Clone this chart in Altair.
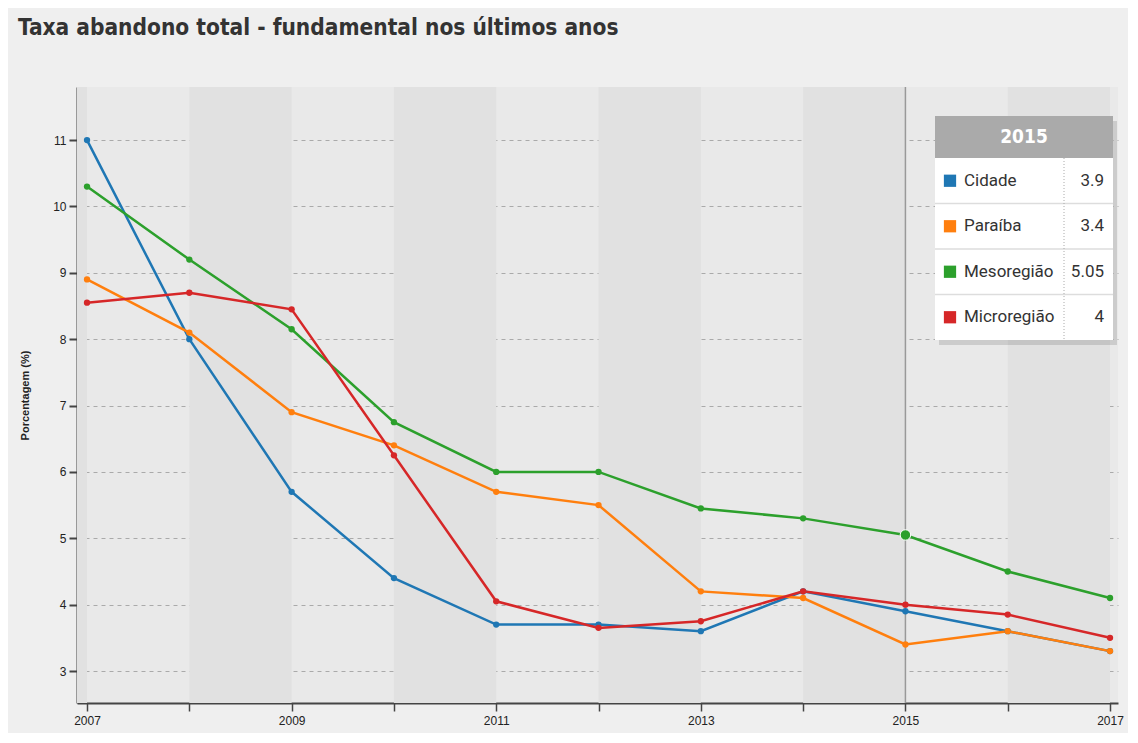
import altair as alt
import pandas as pd

# ---- data ----
years = [2007, 2008, 2009, 2010, 2011, 2012, 2013, 2014, 2015, 2016, 2017]
series_names = ["Cidade", "Paraíba", "Mesoregião", "Microregião"]
series_colors = ["#1f77b4", "#ff7f0e", "#2ca02c", "#d62728"]
cidade = [11.0, 8.0, 5.7, 4.4, 3.7, 3.7, 3.6, 4.2, 3.9, 3.6, 3.3]
paraiba = [8.9, 8.1, 6.9, 6.4, 5.7, 5.5, 4.2, 4.1, 3.4, 3.6, 3.3]
mesoregiao = [10.3, 9.2, 8.15, 6.75, 6.0, 6.0, 5.45, 5.3, 5.05, 4.5, 4.1]
microregiao = [8.55, 8.7, 8.45, 6.25, 4.05, 3.65, 3.75, 4.2, 4.0, 3.85, 3.5]
highlight_year = 2015
y_ticks = [3, 4, 5, 6, 7, 8, 9, 10, 11]
title_text = "Taxa abandono total - fundamental nos últimos anos"
y_title = "Porcentagem (%)"

series_values = [cidade, paraiba, mesoregiao, microregiao]

rows = []
for name, vals in zip(series_names, series_values):
    for yr, v in zip(years, vals):
        rows.append({"ano": yr, "serie": name, "valor": v})
df = pd.DataFrame(rows)

# ---- layout ----
W, H = 1041, 616
X_DOM = [2006.902, 2017.078]
Y_DOM = [2.518, 11.80]

xs = alt.Scale(domain=X_DOM, nice=False, zero=False)
ys = alt.Scale(domain=Y_DOM, nice=False, zero=False)
color_scale = alt.Scale(domain=series_names, range=series_colors)

x_axis = alt.Axis(
    values=years,
    format="d",
    labelExpr="datum.value % 2 == 1 ? datum.label : ''",
    grid=False,
    labelFlush=False,
)
y_axis = alt.Axis(values=y_ticks, format="d", grid=True, title=y_title)

def X(field):
    return alt.X(field, type="quantitative", scale=xs, axis=x_axis, title=None)

def Y(field):
    return alt.Y(field, type="quantitative", scale=ys, axis=y_axis, title=y_title)

# alternating background bands
band_starts = [X_DOM[0]] + [y for y in years[1:-1] if (y - years[0]) % 2 == 1]
band_ends = [years[0]] + [y + 1 for y in years[1:-1] if (y - years[0]) % 2 == 1]
bands_df = pd.DataFrame({"x0": band_starts, "x1": band_ends})
bands = alt.Chart(bands_df).mark_rect(color="#e1e1e1").encode(
    x=X("x0"),
    x2="x1:Q",
)

base = alt.Chart(df)
col = alt.Color("serie:N", scale=color_scale, legend=None, sort=series_names)

lines = base.mark_line(strokeWidth=2.5).encode(
    x=X("ano"), y=Y("valor"), color=col, detail="serie:N"
)
points = base.mark_circle(size=40, opacity=1).encode(
    x=X("ano"), y=Y("valor"), color=col
)

vrule = alt.Chart(pd.DataFrame({"ano": [highlight_year]})).mark_rule(
    color="#999999", strokeWidth=1.5
).encode(x=X("ano"))

hl = base.transform_filter(
    (alt.datum.ano == highlight_year) & (alt.datum.serie == "Mesoregião")
).mark_circle(size=110, opacity=1, stroke="white", strokeWidth=1).encode(
    x=X("ano"), y=Y("valor"), color=col
)

# ---- title (pixel overlay relative to plot origin) ----
pix = dict(scale=None)
title_mark = alt.Chart(pd.DataFrame({"t": [title_text], "x": [-59], "y": [-52]})).mark_text(
    font="DejaVu Sans Condensed, Roboto Condensed, Roboto, sans-serif",
    fontSize=22.5,
    fontWeight="bold",
    color="#333333",
    align="left",
    baseline="alphabetic",
).encode(x=alt.X("x:Q", **pix), y=alt.Y("y:Q", **pix), text="t:N")

# ---- tooltip box (pixel overlay) ----
BX0, BX1 = 858, 1036
BY0, HEAD = 29, 42
ROW = 45.5
n = len(series_names)
BY_HEAD = BY0 + HEAD
BY1 = BY_HEAD + ROW * n
SEP_X = 987

idx = years.index(highlight_year)
tip_df = pd.DataFrame(
    {
        "serie": series_names,
        "valtxt": [f"{v[idx]:g}" for v in series_values],
        "i": list(range(n)),
    }
)
tip_df["yc"] = BY_HEAD + ROW * tip_df["i"] + ROW / 2
tip_df["sq_x"] = BX0 + 15
tip_df["lab_x"] = BX0 + 29
tip_df["val_x"] = BX1 - 9

box_df = pd.DataFrame(
    {
        "x0": [BX0 + 4, BX0, BX0],
        "x1": [BX1 + 4, BX1, BX1],
        "y0": [BY0 + 5, BY_HEAD, BY0],
        "y1": [BY1 + 5, BY1, BY_HEAD],
        "fill": ["#000000", "#ffffff", "#aaaaaa"],
        "op": [0.12, 1.0, 1.0],
    }
)
boxes = alt.Chart(box_df).mark_rect().encode(
    x=alt.X("x0:Q", **pix),
    x2="x1:Q",
    y=alt.Y("y0:Q", **pix),
    y2="y1:Q",
    fill=alt.Fill("fill:N", scale=None),
    opacity=alt.Opacity("op:Q", scale=None),
)
sep_df = pd.DataFrame(
    {"y": [BY_HEAD + ROW * k for k in range(1, n)], "x0": [BX0] * (n - 1), "x1": [BX1] * (n - 1)}
)
hseps = alt.Chart(sep_df).mark_rule(color="#dddddd", strokeWidth=1.5).encode(
    x=alt.X("x0:Q", **pix), x2="x1:Q", y=alt.Y("y:Q", **pix)
)
vsep = alt.Chart(pd.DataFrame({"x": [SEP_X], "y0": [BY_HEAD], "y1": [BY1]})).mark_rule(
    color="#aaaaaa", strokeWidth=1, strokeDash=[1, 2]
).encode(x=alt.X("x:Q", **pix), y=alt.Y("y0:Q", **pix), y2="y1:Q")

head_txt = alt.Chart(
    pd.DataFrame({"t": [str(highlight_year)], "x": [(BX0 + BX1) / 2], "y": [BY0 + HEAD / 2]})
).mark_text(
    font="DejaVu Sans Condensed, Roboto, sans-serif", fontSize=19, fontWeight="bold",
    color="white", align="center", baseline="middle"
).encode(x=alt.X("x:Q", **pix), y=alt.Y("y:Q", **pix), text="t:N")

tip = alt.Chart(tip_df)
squares = tip.mark_square(size=150, opacity=1).encode(
    x=alt.X("sq_x:Q", **pix), y=alt.Y("yc:Q", **pix),
    color=alt.Color("serie:N", scale=color_scale, legend=None),
)
labels = tip.mark_text(
    font="Roboto", fontSize=17, color="#333333", align="left", baseline="middle"
).encode(x=alt.X("lab_x:Q", **pix), y=alt.Y("yc:Q", **pix), text="serie:N")
vals = tip.mark_text(
    font="Roboto", fontSize=17, color="#333333", align="right", baseline="middle"
).encode(x=alt.X("val_x:Q", **pix), y=alt.Y("yc:Q", **pix), text="valtxt:N")

chart = (
    alt.layer(
        bands, vrule, lines, points, hl, boxes, hseps, vsep, head_txt, squares, labels, vals,
        title_mark,
    )
    .properties(
        width=W,
        height=H,
        autosize=alt.AutoSizeParams(type="none"),
        padding={"left": 69, "top": 79, "right": 10, "bottom": 30},
        background="#efefef",
    )
    .configure_view(fill="#e9e9e9", stroke=None)
    .configure_axis(
        domainColor="#444444",
        domainWidth=2,
        tickColor="#444444",
        tickSize=8,
        labelFont="Liberation Sans",
        labelFontSize=12,
        labelColor="#222222",
    )
    .configure_axisX(tickWidth=1.5, labelPadding=4)
    .configure_axisY(
        tickWidth=2,
        labelPadding=3,
        gridDash=[4, 4],
        gridColor="#aaaaaa",
        gridWidth=1,
        titleFont="Liberation Sans",
        titleFontSize=11,
        titleFontWeight="bold",
        titleColor="#222222",
        titleAngle=-90,
        titleX=-52,
        titleY=H / 2,
        titleAlign="center",
        titleBaseline="middle",
    )
)

chart.save("out.html", embed_options={"renderer": "svg", "actions": False})
